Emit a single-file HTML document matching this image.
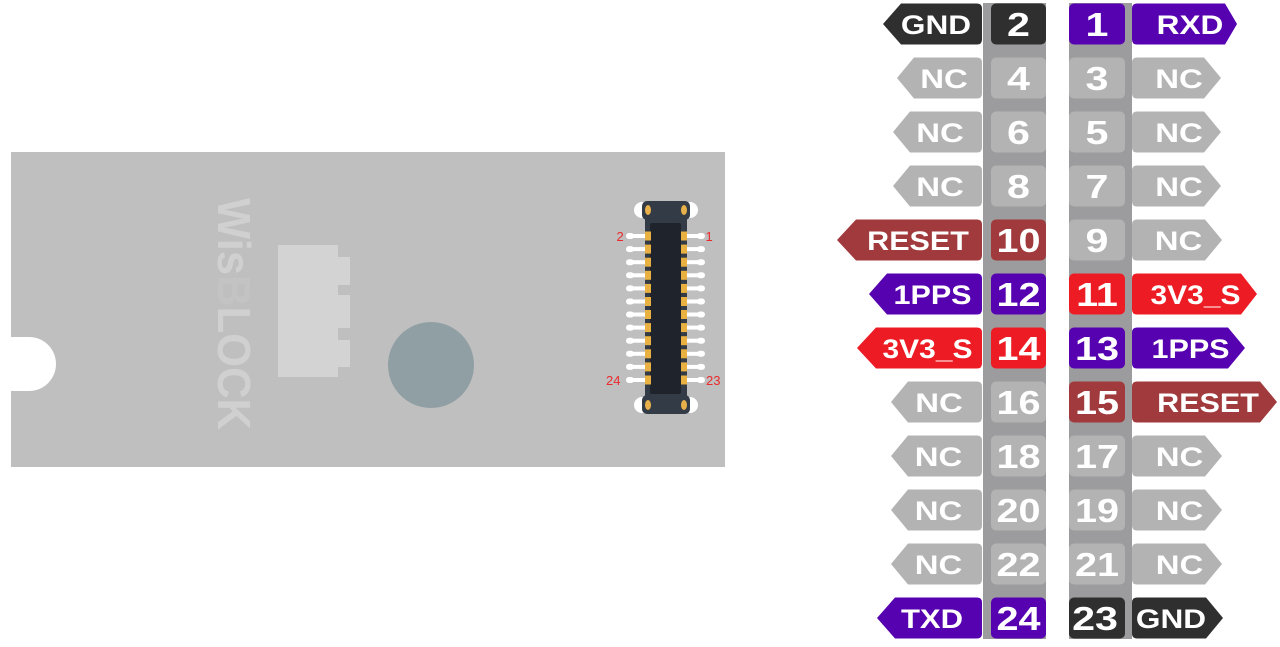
<!DOCTYPE html>
<html><head><meta charset="utf-8"><style>
html,body{margin:0;padding:0;background:#fff;}
svg{display:block;}
.lb{font-family:"Liberation Sans",Arial,sans-serif;font-weight:bold;font-size:27px;fill:#fff;text-anchor:middle;}
.nm{font-family:"Liberation Sans",Arial,sans-serif;font-weight:bold;font-size:33px;fill:#fff;text-anchor:middle;}
.pl{font-family:"Liberation Sans",Arial,sans-serif;font-size:13px;fill:#ec2a2d;}
</style></head><body>
<svg width="1280" height="647" viewBox="0 0 1280 647" xmlns="http://www.w3.org/2000/svg">
<!-- Board -->
<rect x="11" y="152" width="714" height="315" fill="#bfbfbf"/>
<path d="M0 337 H29 A27 27 0 0 1 29 391 H0 Z" fill="#fff"/>
<!-- WisBLOCK text -->
<text transform="translate(218,198) rotate(90)" font-family="Liberation Sans,Arial,sans-serif" font-weight="bold" font-size="46" fill="#d0d0d0" textLength="232" lengthAdjust="spacingAndGlyphs">Wis<tspan fill="#c3c3c3">B</tspan>LOCK</text>
<!-- component -->
<path d="M278 245 H338 V257 H350 V285 H338 V295 H350 V328 H338 V340 H350 V367 H338 V377 H278 Z" fill="#d3d3d3"/>
<circle cx="431" cy="365" r="43" fill="#909fa4"/>
<!-- connector -->
<circle cx="642" cy="210" r="8" fill="#fff"/>
<circle cx="690" cy="210" r="8" fill="#fff"/>
<circle cx="642" cy="405" r="8" fill="#fff"/>
<circle cx="690" cy="405" r="8" fill="#fff"/>
<rect x="642" y="201" width="48" height="19" rx="5" fill="#333b46"/>
<rect x="642" y="395" width="48" height="19" rx="5" fill="#333b46"/>
<rect x="645" y="212" width="42" height="192" fill="#333b46"/>
<rect x="650" y="223" width="31" height="171" rx="2" fill="#1f232b"/>
<ellipse cx="648" cy="210" rx="3" ry="5" fill="#e8b04a"/>
<ellipse cx="684" cy="210" rx="3" ry="5" fill="#e8b04a"/>
<ellipse cx="648" cy="405" rx="3" ry="5" fill="#e8b04a"/>
<ellipse cx="684" cy="405" rx="3" ry="5" fill="#e8b04a"/>
<g fill="#fff">
<rect x="631" y="234" width="15" height="4"/><rect x="626" y="233" width="8" height="6" rx="3"/><rect x="686" y="234" width="15" height="4"/><rect x="697" y="233" width="8" height="6" rx="3"/>
<rect x="631" y="247.1" width="15" height="4"/><rect x="626" y="246.1" width="8" height="6" rx="3"/><rect x="686" y="247.1" width="15" height="4"/><rect x="697" y="246.1" width="8" height="6" rx="3"/>
<rect x="631" y="260.2" width="15" height="4"/><rect x="626" y="259.2" width="8" height="6" rx="3"/><rect x="686" y="260.2" width="15" height="4"/><rect x="697" y="259.2" width="8" height="6" rx="3"/>
<rect x="631" y="273.3" width="15" height="4"/><rect x="626" y="272.3" width="8" height="6" rx="3"/><rect x="686" y="273.3" width="15" height="4"/><rect x="697" y="272.3" width="8" height="6" rx="3"/>
<rect x="631" y="286.4" width="15" height="4"/><rect x="626" y="285.4" width="8" height="6" rx="3"/><rect x="686" y="286.4" width="15" height="4"/><rect x="697" y="285.4" width="8" height="6" rx="3"/>
<rect x="631" y="299.5" width="15" height="4"/><rect x="626" y="298.5" width="8" height="6" rx="3"/><rect x="686" y="299.5" width="15" height="4"/><rect x="697" y="298.5" width="8" height="6" rx="3"/>
<rect x="631" y="312.5" width="15" height="4"/><rect x="626" y="311.5" width="8" height="6" rx="3"/><rect x="686" y="312.5" width="15" height="4"/><rect x="697" y="311.5" width="8" height="6" rx="3"/>
<rect x="631" y="325.6" width="15" height="4"/><rect x="626" y="324.6" width="8" height="6" rx="3"/><rect x="686" y="325.6" width="15" height="4"/><rect x="697" y="324.6" width="8" height="6" rx="3"/>
<rect x="631" y="338.7" width="15" height="4"/><rect x="626" y="337.7" width="8" height="6" rx="3"/><rect x="686" y="338.7" width="15" height="4"/><rect x="697" y="337.7" width="8" height="6" rx="3"/>
<rect x="631" y="351.8" width="15" height="4"/><rect x="626" y="350.8" width="8" height="6" rx="3"/><rect x="686" y="351.8" width="15" height="4"/><rect x="697" y="350.8" width="8" height="6" rx="3"/>
<rect x="631" y="364.9" width="15" height="4"/><rect x="626" y="363.9" width="8" height="6" rx="3"/><rect x="686" y="364.9" width="15" height="4"/><rect x="697" y="363.9" width="8" height="6" rx="3"/>
<rect x="631" y="378" width="15" height="4"/><rect x="626" y="377" width="8" height="6" rx="3"/><rect x="686" y="378" width="15" height="4"/><rect x="697" y="377" width="8" height="6" rx="3"/>
</g>
<g fill="#e9b042">
<rect x="645" y="231.5" width="6" height="9"/><rect x="681" y="231.5" width="6" height="9"/>
<rect x="645" y="244.6" width="6" height="9"/><rect x="681" y="244.6" width="6" height="9"/>
<rect x="645" y="257.7" width="6" height="9"/><rect x="681" y="257.7" width="6" height="9"/>
<rect x="645" y="270.8" width="6" height="9"/><rect x="681" y="270.8" width="6" height="9"/>
<rect x="645" y="283.9" width="6" height="9"/><rect x="681" y="283.9" width="6" height="9"/>
<rect x="645" y="297" width="6" height="9"/><rect x="681" y="297" width="6" height="9"/>
<rect x="645" y="310" width="6" height="9"/><rect x="681" y="310" width="6" height="9"/>
<rect x="645" y="323.1" width="6" height="9"/><rect x="681" y="323.1" width="6" height="9"/>
<rect x="645" y="336.2" width="6" height="9"/><rect x="681" y="336.2" width="6" height="9"/>
<rect x="645" y="349.3" width="6" height="9"/><rect x="681" y="349.3" width="6" height="9"/>
<rect x="645" y="362.4" width="6" height="9"/><rect x="681" y="362.4" width="6" height="9"/>
<rect x="645" y="375.5" width="6" height="9"/><rect x="681" y="375.5" width="6" height="9"/>
</g>
<text class="pl" x="616.5" y="241">2</text>
<text class="pl" x="705.5" y="241">1</text>
<text class="pl" x="606" y="385">24</text>
<text class="pl" x="706" y="385">23</text>

<!-- Pin header strips -->
<rect x="983" y="3" width="63" height="636" fill="#9c9c9e"/>
<rect x="1069" y="3" width="63" height="636" fill="#9c9c9e"/>

<!-- Left labels -->
<g>
<path d="M883 24 L901 3.5 H977 Q982 3.5 982 8.5 V39.5 Q982 44.5 977 44.5 H901 Z" fill="#2f2f2f"/>
<path d="M897 78 L914 57.5 H977 Q982 57.5 982 62.5 V93.5 Q982 98.5 977 98.5 H914 Z" fill="#b3b3b3"/>
<path d="M893 132 L910 111.5 H977 Q982 111.5 982 116.5 V147.5 Q982 152.5 977 152.5 H910 Z" fill="#b3b3b3"/>
<path d="M893 186 L910 165.5 H977 Q982 165.5 982 170.5 V201.5 Q982 206.5 977 206.5 H910 Z" fill="#b3b3b3"/>
<path d="M837 240 L856 219.5 H977 Q982 219.5 982 224.5 V255.5 Q982 260.5 977 260.5 H856 Z" fill="#a13a3c"/>
<path d="M869 294 L887 273.5 H977 Q982 273.5 982 278.5 V309.5 Q982 314.5 977 314.5 H887 Z" fill="#5602b0"/>
<path d="M857 348 L876 327.5 H977 Q982 327.5 982 332.5 V363.5 Q982 368.5 977 368.5 H876 Z" fill="#ed1c24"/>
<path d="M891 402 L908 381.5 H977 Q982 381.5 982 386.5 V417.5 Q982 422.5 977 422.5 H908 Z" fill="#b3b3b3"/>
<path d="M891 456 L908 435.5 H977 Q982 435.5 982 440.5 V471.5 Q982 476.5 977 476.5 H908 Z" fill="#b3b3b3"/>
<path d="M891 510 L908 489.5 H977 Q982 489.5 982 494.5 V525.5 Q982 530.5 977 530.5 H908 Z" fill="#b3b3b3"/>
<path d="M891 564 L908 543.5 H977 Q982 543.5 982 548.5 V579.5 Q982 584.5 977 584.5 H908 Z" fill="#b3b3b3"/>
<path d="M877 618 L895 597.5 H977 Q982 597.5 982 602.5 V633.5 Q982 638.5 977 638.5 H895 Z" fill="#5602b0"/>
</g>
<g class="lb">
<text transform="translate(936,34) scale(1.17,1)">GND</text>
<text transform="translate(944,88) scale(1.22,1)">NC</text>
<text transform="translate(940,142) scale(1.22,1)">NC</text>
<text transform="translate(940,196) scale(1.22,1)">NC</text>
<text transform="translate(918,250) scale(1.13,1)">RESET</text>
<text transform="translate(932.5,304) scale(1.13,1)">1PPS</text>
<text transform="translate(927.5,358) scale(1.11,1)">3V3_S</text>
<text transform="translate(939,412) scale(1.22,1)">NC</text>
<text transform="translate(938.5,466) scale(1.22,1)">NC</text>
<text transform="translate(938.5,520) scale(1.22,1)">NC</text>
<text transform="translate(938.5,574) scale(1.22,1)">NC</text>
<text transform="translate(932,628) scale(1.15,1)">TXD</text>
</g>

<!-- Right labels -->
<g>
<path d="M1137 3.5 H1225 L1237 24 L1225 44.5 H1137 Q1132 44.5 1132 39.5 V8.5 Q1132 3.5 1137 3.5 Z" fill="#5602b0"/>
<path d="M1137 57.5 H1204 L1221 78 L1204 98.5 H1137 Q1132 98.5 1132 93.5 V62.5 Q1132 57.5 1137 57.5 Z" fill="#b3b3b3"/>
<path d="M1137 111.5 H1204 L1221 132 L1204 152.5 H1137 Q1132 152.5 1132 147.5 V116.5 Q1132 111.5 1137 111.5 Z" fill="#b3b3b3"/>
<path d="M1137 165.5 H1204 L1221 186 L1204 206.5 H1137 Q1132 206.5 1132 201.5 V170.5 Q1132 165.5 1137 165.5 Z" fill="#b3b3b3"/>
<path d="M1137 219.5 H1205 L1222 240 L1205 260.5 H1137 Q1132 260.5 1132 255.5 V224.5 Q1132 219.5 1137 219.5 Z" fill="#b3b3b3"/>
<path d="M1137 273.5 H1241 L1257 294 L1241 314.5 H1137 Q1132 314.5 1132 309.5 V278.5 Q1132 273.5 1137 273.5 Z" fill="#ed1c24"/>
<path d="M1137 327.5 H1228 L1245 348 L1228 368.5 H1137 Q1132 368.5 1132 363.5 V332.5 Q1132 327.5 1137 327.5 Z" fill="#5602b0"/>
<path d="M1137 381.5 H1260 L1277 402 L1260 422.5 H1137 Q1132 422.5 1132 417.5 V386.5 Q1132 381.5 1137 381.5 Z" fill="#a13a3c"/>
<path d="M1137 435.5 H1205 L1222 456 L1205 476.5 H1137 Q1132 476.5 1132 471.5 V440.5 Q1132 435.5 1137 435.5 Z" fill="#b3b3b3"/>
<path d="M1137 489.5 H1205 L1222 510 L1205 530.5 H1137 Q1132 530.5 1132 525.5 V494.5 Q1132 489.5 1137 489.5 Z" fill="#b3b3b3"/>
<path d="M1137 543.5 H1205 L1222 564 L1205 584.5 H1137 Q1132 584.5 1132 579.5 V548.5 Q1132 543.5 1137 543.5 Z" fill="#b3b3b3"/>
<path d="M1137 597.5 H1206 L1223 618 L1206 638.5 H1137 Q1132 638.5 1132 633.5 V602.5 Q1132 597.5 1137 597.5 Z" fill="#2f2f2f"/>
</g>
<g class="lb">
<text transform="translate(1190,34) scale(1.17,1)">RXD</text>
<text transform="translate(1179,88) scale(1.22,1)">NC</text>
<text transform="translate(1179,142) scale(1.22,1)">NC</text>
<text transform="translate(1179,196) scale(1.22,1)">NC</text>
<text transform="translate(1178.5,250) scale(1.22,1)">NC</text>
<text transform="translate(1195.5,304) scale(1.11,1)">3V3_S</text>
<text transform="translate(1190.5,358) scale(1.13,1)">1PPS</text>
<text transform="translate(1208,412) scale(1.13,1)">RESET</text>
<text transform="translate(1179.5,466) scale(1.22,1)">NC</text>
<text transform="translate(1179.5,520) scale(1.22,1)">NC</text>
<text transform="translate(1179.5,574) scale(1.22,1)">NC</text>
<text transform="translate(1171,628) scale(1.17,1)">GND</text>
</g>

<!-- Number boxes -->
<g>
<rect x="991" y="3.5" width="55" height="41" rx="5" fill="#2f2f2f"/>
<rect x="991" y="57.5" width="55" height="41" rx="5" fill="#b3b3b3"/>
<rect x="991" y="111.5" width="55" height="41" rx="5" fill="#b3b3b3"/>
<rect x="991" y="165.5" width="55" height="41" rx="5" fill="#b3b3b3"/>
<rect x="991" y="219.5" width="55" height="41" rx="5" fill="#a13a3c"/>
<rect x="991" y="273.5" width="55" height="41" rx="5" fill="#5602b0"/>
<rect x="991" y="327.5" width="55" height="41" rx="5" fill="#ed1c24"/>
<rect x="991" y="381.5" width="55" height="41" rx="5" fill="#b3b3b3"/>
<rect x="991" y="435.5" width="55" height="41" rx="5" fill="#b3b3b3"/>
<rect x="991" y="489.5" width="55" height="41" rx="5" fill="#b3b3b3"/>
<rect x="991" y="543.5" width="55" height="41" rx="5" fill="#b3b3b3"/>
<rect x="991" y="597.5" width="55" height="41" rx="5" fill="#5602b0"/>

<rect x="1069" y="3.5" width="56" height="41" rx="5" fill="#5602b0"/>
<rect x="1069" y="57.5" width="56" height="41" rx="5" fill="#b3b3b3"/>
<rect x="1069" y="111.5" width="56" height="41" rx="5" fill="#b3b3b3"/>
<rect x="1069" y="165.5" width="56" height="41" rx="5" fill="#b3b3b3"/>
<rect x="1069" y="219.5" width="56" height="41" rx="5" fill="#b3b3b3"/>
<rect x="1069" y="273.5" width="56" height="41" rx="5" fill="#ed1c24"/>
<rect x="1069" y="327.5" width="56" height="41" rx="5" fill="#5602b0"/>
<rect x="1069" y="381.5" width="56" height="41" rx="5" fill="#a13a3c"/>
<rect x="1069" y="435.5" width="56" height="41" rx="5" fill="#b3b3b3"/>
<rect x="1069" y="489.5" width="56" height="41" rx="5" fill="#b3b3b3"/>
<rect x="1069" y="543.5" width="56" height="41" rx="5" fill="#b3b3b3"/>
<rect x="1069" y="597.5" width="56" height="41" rx="5" fill="#2f2f2f"/>
</g>
<g class="nm">
<text transform="translate(1018.5,36) scale(1.25,1)">2</text>
<text transform="translate(1018.5,90) scale(1.25,1)">4</text>
<text transform="translate(1018.5,144) scale(1.25,1)">6</text>
<text transform="translate(1018.5,198) scale(1.25,1)">8</text>
<text transform="translate(1018.5,252) scale(1.2,1)">10</text>
<text transform="translate(1018.5,306) scale(1.2,1)">12</text>
<text transform="translate(1018.5,360) scale(1.2,1)">14</text>
<text transform="translate(1018.5,414) scale(1.2,1)">16</text>
<text transform="translate(1018.5,468) scale(1.2,1)">18</text>
<text transform="translate(1018.5,522) scale(1.2,1)">20</text>
<text transform="translate(1018.5,576) scale(1.2,1)">22</text>
<text transform="translate(1018.5,630) scale(1.2,1)">24</text>

<text transform="translate(1097,36) scale(1.25,1)">1</text>
<text transform="translate(1097,90) scale(1.25,1)">3</text>
<text transform="translate(1097,144) scale(1.25,1)">5</text>
<text transform="translate(1097,198) scale(1.25,1)">7</text>
<text transform="translate(1097,252) scale(1.25,1)">9</text>
<text transform="translate(1097,306) scale(1.2,1)">11</text>
<text transform="translate(1097,360) scale(1.2,1)">13</text>
<text transform="translate(1097,414) scale(1.2,1)">15</text>
<text transform="translate(1097,468) scale(1.2,1)">17</text>
<text transform="translate(1097,522) scale(1.2,1)">19</text>
<text transform="translate(1097,576) scale(1.2,1)">21</text>
<text transform="translate(1095,630) scale(1.25,1)">23</text>
</g>
</svg>
</body></html>
